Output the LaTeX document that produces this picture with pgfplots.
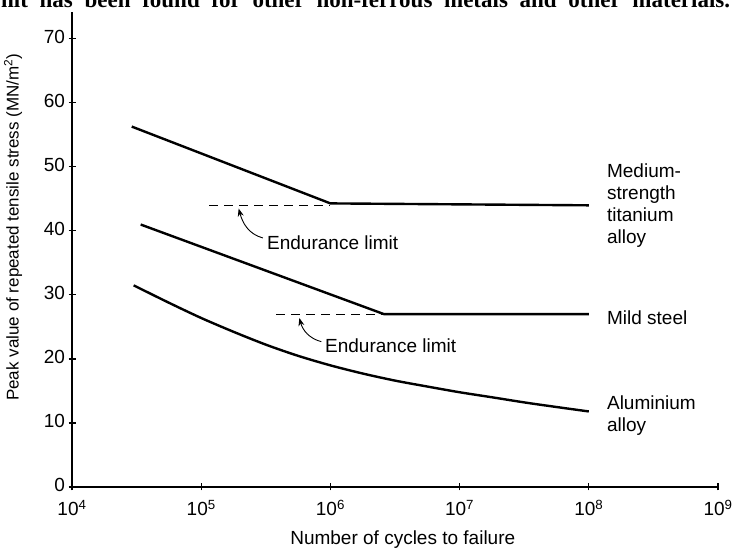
\documentclass[border=0pt]{standalone}
\usepackage{fontspec}
\setmainfont{Liberation Sans}
\newfontfamily\bookfont{Liberation Serif}
\usepackage{pgfplots}
\pgfplotsset{compat=1.18}
\usetikzlibrary{arrows.meta}

\begin{document}
\begin{tikzpicture}[x=1pt,y=1pt]
\path[use as bounding box] (0,0) rectangle (733,556);
% cut-off line of book text above the figure
\node[anchor=base west, inner sep=0pt] at (1,548.5)
  {\bookfont\bfseries\fontsize{23}{26}\selectfont\makebox[729pt][s]{nit has been found for other non-ferrous metals and other materials.}};

\begin{axis}[
    at={(72pt,69pt)}, anchor=south west,
    scale only axis, width=646pt, height=475pt,
    xmode=log,
    xmin=1e4, xmax=1e9,
    ymin=0, ymax=74.2,
    axis lines=left,
    axis line style={-, line width=1.6pt},
    xtick={1e4,1e5,1e6,1e7,1e8,1e9},
    xticklabels={10\textsuperscript{4},10\textsuperscript{5},10\textsuperscript{6},10\textsuperscript{7},10\textsuperscript{8},10\textsuperscript{9}},
    xminorticks=false,
    ytick={0,10,20,30,40,50,60,70},
    tick align=center,
    major tick length=7pt,
    tick style={line width=1.1pt, black},
    ticklabel style={font=\fontsize{19}{22}\selectfont},
    xticklabel style={yshift=-6pt},
    yticklabel style={yshift=2pt},
    /pgf/number format/assume math mode=true,
    xlabel={Number of cycles to failure},
    ylabel={Peak value of repeated tensile stress (MN/m\textsuperscript{2})},
    xlabel style={at={(axis description cs:0.512,-0.11)}, anchor=center, font=\fontsize{19}{22}\selectfont},
    ylabel style={at={(axis description cs:-0.0913,0.547)}, anchor=center, font=\fontsize{17}{20}\selectfont},
    clip=false,
]

% medium-strength titanium alloy
\addplot[black, line width=2.4pt] coordinates {
    (2.9e4,56.3) (1e6,44.3) (1e8,44.0)
};
% mild steel
\addplot[black, line width=2.4pt] coordinates {
    (3.4e4,41.0) (2.6e6,27.0) (1e8,27.0)
};
% aluminium alloy
\addplot[black, line width=2.4pt, smooth] coordinates {
    (3.0e4,31.5) (5.6e4,28.8) (1e5,26.4) (1.8e5,24.2) (3.2e5,22.2)
    (5.6e5,20.5) (1e6,19.0) (1.8e6,17.7) (3.2e6,16.6) (5.6e6,15.7)
    (1e7,14.8) (1.8e7,14.0) (3.2e7,13.2) (5.6e7,12.5) (1e8,11.8)
};
% endurance limits
\addplot[black, line width=1.3pt, dash pattern=on 9pt off 6pt] coordinates {
    (1.15e5,44.0) (1e6,44.0)
};
\addplot[black, line width=1.3pt, dash pattern=on 9pt off 6pt] coordinates {
    (3.8e5,27.0) (2.6e6,27.0)
};

\draw[line width=0.9pt, -{Stealth[length=8pt,width=6pt]}]
    (axis cs:3.0e5,38.9) to[out=165,in=-75] (axis cs:1.95e5,43.5);
\draw[line width=0.9pt, -{Stealth[length=8pt,width=6pt]}]
    (axis cs:8.5e5,22.7) to[out=165,in=-75] (axis cs:5.75e5,26.4);

\node[anchor=west, inner sep=0pt, font=\fontsize{19}{22}\selectfont] at (axis cs:3.23e5,38.1) {Endurance limit};
\node[anchor=west, inner sep=0pt, font=\fontsize{19}{22}\selectfont] at (axis cs:9.08e5,22.0) {Endurance limit};

\node[anchor=west, inner sep=0pt, align=left, font=\fontsize{19}{22}\selectfont] at (axis cs:1.38e8,44.0) {Medium-\\strength\\titanium\\alloy};
\node[anchor=west, inner sep=0pt, font=\fontsize{19}{22}\selectfont] at (axis cs:1.38e8,26.4) {Mild steel};
\node[anchor=west, inner sep=0pt, align=left, font=\fontsize{19}{22}\selectfont] at (axis cs:1.38e8,11.1) {Aluminium\\alloy};

\end{axis}
\end{tikzpicture}
\end{document}
